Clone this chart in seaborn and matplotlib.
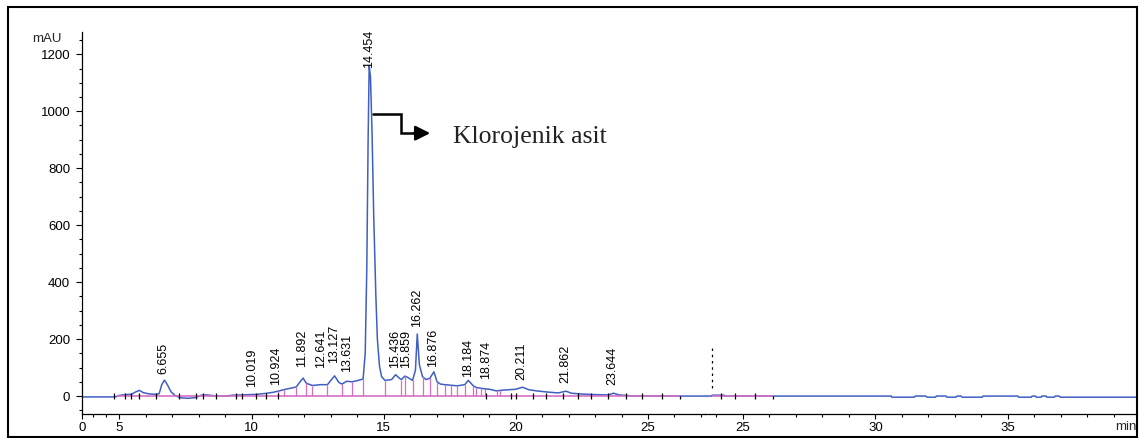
import numpy as np
import matplotlib
matplotlib.use("Agg")
import matplotlib.pyplot as plt
from matplotlib.patches import Rectangle
from matplotlib.ticker import MultipleLocator, FixedLocator
import seaborn as sns

# ---------------- chromatogram data (retention time in min, signal in mAU) ----------------
# first run segment (0 - 27 min)
time_a = [0.0, 4.2, 4.6, 4.9, 5.2, 5.45, 5.6, 5.75, 5.9, 6.1, 6.35, 6.5, 6.6, 6.7, 6.8,
          6.95, 7.1, 7.3, 7.6, 7.9, 8.1, 8.3, 8.5, 8.7, 9.0, 9.3, 9.6, 9.9, 10.2, 10.5,
          10.8, 11.0, 11.2, 11.4, 11.69, 11.85, 11.95, 12.07, 12.3, 12.6, 12.87, 13.0,
          13.14, 13.3, 13.42, 13.6, 13.8, 14.0, 14.22, 14.3, 14.36, 14.41, 14.45, 14.5,
          14.56, 14.62, 14.7, 14.76, 14.84, 14.92, 15.05, 15.3, 15.45, 15.6, 15.67, 15.8,
          15.9, 16.09, 16.2, 16.27, 16.35, 16.47, 16.6, 16.74, 16.9, 17.02, 17.15, 17.31,
          17.54, 17.78, 18.07, 18.2, 18.39, 18.51, 18.7, 18.85, 19.0, 19.27, 19.42,
          19.7, 20.0, 20.25, 20.5, 20.8, 21.2, 21.6, 21.9, 22.1, 22.5, 23.0, 23.5,
          23.7, 23.9, 24.2, 24.5, 27.2]
mau_a = [-3, -3, -2, 2, 5, 6, 14, 20, 12, 8, 6, 8, 40, 56, 42,
         15, 2, -6, -8, -5, 3, 4, 2, 0, 0, 3, 4, 5, 6, 9,
         13, 17, 22, 26, 32, 52, 63, 45, 37, 40, 40, 55,
         71, 48, 42, 52, 50, 54, 60, 150, 450, 900, 1160, 1120,
         920, 640, 360, 200, 105, 68, 55, 58, 75, 62, 58, 70,
         66, 55, 90, 218, 110, 68, 58, 62, 85, 50, 42, 40,
         38, 36, 40, 55, 36, 30, 27, 25, 24, 18, 20,
         22, 24, 31, 22, 18, 14, 11, 17, 10, 7, 5, 4,
         10, 4, 2, 0, 0]

# second run segment (23.6 - 40 min)
time_b = [23.57, 23.82, 23.84, 24.30, 24.32, 30.60, 30.62, 31.47, 31.50, 31.90, 31.95,
          32.27, 32.30, 32.67, 32.70, 33.04, 33.07, 33.23, 33.27, 34.03, 34.06, 35.37,
          35.40, 35.88, 35.91, 36.04, 36.07, 36.25, 36.28, 36.44, 36.47, 36.75, 36.78,
          36.94, 36.97, 39.87]
mau_b = [0, 0, 3, 3, 0, 0, -4, -4, 0, 0, -4,
         -4, 0, 0, -4, -4, 0, 0, -4, -4, 0, 0,
         -4, -4, 0, 0, -4, -4, 0, 0, -4, -4, 0,
         0, -4, -4]

# integration: drop lines (time, height) and peak start/end marks
drop_time = [11.00, 11.21, 11.69, 12.07, 12.30, 12.87, 13.42, 13.80, 14.22, 15.05, 15.67,
             15.80, 16.09, 16.47, 16.74, 17.02, 17.31, 17.54, 17.78, 18.07, 18.39, 18.51,
             18.70, 18.85, 19.27, 19.42]
drop_mau = [17, 22, 32, 45, 37, 40, 42, 50, 60, 55, 58,
            70, 55, 68, 62, 50, 40, 38, 36, 40, 36, 30,
            27, 25, 18, 20]
mark_time_a = [4.2, 5.22, 5.44, 5.73, 6.39, 7.25, 7.88, 8.16, 8.66, 9.42, 9.65, 10.15,
               10.56, 11.0, 18.86, 19.80, 20.0, 20.65, 21.16, 21.79, 22.36, 22.83,
               23.47, 24.17, 24.76, 25.52]
baseline_a = (4.73, 26.21)
mark_time_b = [24.16, 24.70, 25.45]
baseline_b = (23.82, 26.14)
inject_time_b = 23.82

# peak labels: retention time and label anchor height (mAU)
peak_rt = [6.655, 10.019, 10.924, 11.892, 12.641, 13.127, 13.631, 14.454, 15.436,
           15.859, 16.262, 16.876, 18.184, 18.874, 20.211, 21.862, 23.644]
label_mau = [77, 33, 38, 102, 98, 116, 84, 1152, 98,
             98, 243, 102, 67, 60, 56, 46, 39]

y_ticks = [0, 200, 400, 600, 800, 1000, 1200]
x_ticks_a = [0, 5, 10, 15, 20, 25]
x_ticks_b = [25, 30, 35]

compound = "Klorojenik asit"
compound_peak = 990      # level of the pointer line
compound_text_y = 888

# ---------------- style ----------------
sns.set_theme(style="ticks")
plt.rcParams["font.family"] = ["Liberation Sans", "DejaVu Sans"]
plt.rcParams["axes.linewidth"] = 0.9

BLUE = "#3f5fc2"
PINK = "#d56fc3"
W, H = 1144, 438

fig = plt.figure(figsize=(W / 100, H / 100), dpi=100)
fig.patch.set_facecolor("white")

bottom = (H - 414) / H
height = (414 - 31.5) / H
ax1 = fig.add_axes([82.5 / W, bottom, (705 - 82.5) / W, height])
ax2 = fig.add_axes([705 / W, bottom, (1137 - 705) / W, height], sharey=ax1)

# the first 5 min are drawn compressed
R = 0.28


def fwd(t):
    t = np.asarray(t, dtype=float)
    return np.where(t < 5, t * R, t - 5 + 5 * R)


def inv(u):
    u = np.asarray(u, dtype=float)
    return np.where(u < 5 * R, u / R, u + 5 - 5 * R)


ax1.set_xscale("function", functions=(fwd, inv))

# signal traces
sns.lineplot(x=time_a, y=mau_a, ax=ax1, color=BLUE, lw=1.1, estimator=None, sort=False, zorder=2)
sns.lineplot(x=time_b, y=mau_b, ax=ax2, color=BLUE, lw=1.1, estimator=None, sort=False, zorder=2)

# integration baseline, drop lines and peak marks
ax1.hlines(0, *baseline_a, color=PINK, lw=1.2, zorder=3)
ax1.vlines(drop_time, 0, drop_mau, color=PINK, lw=0.9, zorder=3)
ax1.vlines(mark_time_a, -12, 12, color="black", lw=0.9, zorder=4)
ax1.vlines(baseline_a[1], -12, 0, color="black", lw=0.9, zorder=4)

ax2.hlines(0, *baseline_b, color=PINK, lw=1.2, zorder=3)
ax2.vlines(mark_time_b, -12, 12, color="black", lw=0.9, zorder=4)
ax2.vlines(baseline_b[1], -12, 0, color="black", lw=0.9, zorder=4)
ax2.vlines(inject_time_b, 28, 168, color="black", lw=0.9, linestyles=(0, (2, 3)), zorder=4)

# retention-time labels
for rt, ly in zip(peak_rt, label_mau):
    ax1.text(rt, ly, f"{rt:.3f}", rotation=90, ha="center", va="bottom",
             fontsize=9, color="black", clip_on=False, zorder=5)

# pointer to the main compound
ax1.plot([14.58, 15.67, 15.67, 16.25], [compound_peak, compound_peak, 923, 923],
         color="black", lw=1.8, solid_joinstyle="miter", zorder=5)
ax1.annotate("", xy=(16.76, 923), xytext=(16.15, 923),
             arrowprops=dict(arrowstyle="-|>", lw=1.8, color="black", mutation_scale=22,
                             shrinkA=0, shrinkB=0), zorder=5)
ax1.text(17.61, compound_text_y, compound, fontsize=18.5, family=["Liberation Serif"],
         color="#222222", ha="left", va="baseline")

# axes
ax1.set_ylim(-63, 1280)
ax1.set_xlim(0, 27.16)
ax2.set_xlim(23.57, 39.87)

ax1.yaxis.set_major_locator(FixedLocator(y_ticks))
ax1.yaxis.set_minor_locator(MultipleLocator(50))
ax1.xaxis.set_major_locator(FixedLocator(x_ticks_a))
ax1.xaxis.set_minor_locator(FixedLocator([1.4, 3.2] + list(range(6, 28))))
ax2.xaxis.set_major_locator(FixedLocator(x_ticks_b))
ax2.xaxis.set_minor_locator(MultipleLocator(1))

for ax in (ax1, ax2):
    ax.set_xlabel("")
    ax.set_ylabel("")
    ax.set_facecolor("none")
    ax.spines["top"].set_visible(False)
    ax.spines["right"].set_visible(False)
    for s in ax.spines.values():
        s.set_color("black")
    ax.tick_params(axis="x", which="major", direction="out", length=3.8, width=0.8,
                   pad=2, labelsize=9.5, colors="black")
    ax.tick_params(axis="x", which="minor", direction="out", length=2.4, width=0.8,
                   colors="black")
    ax.grid(False)

ax1.tick_params(axis="y", which="major", direction="out", length=4.3, width=0.8,
                pad=4.5, labelsize=9.5, colors="black")
ax1.tick_params(axis="y", which="minor", direction="out", length=2.2, width=0.8,
                colors="black")
ax2.spines["left"].set_visible(False)
ax2.tick_params(axis="y", which="both", left=False, labelleft=False)

fig.text(32 / W, 1 - 39 / H, "mAU", fontsize=9.5, ha="left", va="center")
fig.text(1137 / W, 1 - 427 / H, "min", fontsize=9.5, ha="right", va="center")

fig.add_artist(Rectangle((7.5 / W, 1 / H), (1137 - 7.5) / W, (437 - 7) / H,
                         transform=fig.transFigure, fill=False, lw=1.5, ec="black"))

fig.savefig("out.png", dpi=100)
